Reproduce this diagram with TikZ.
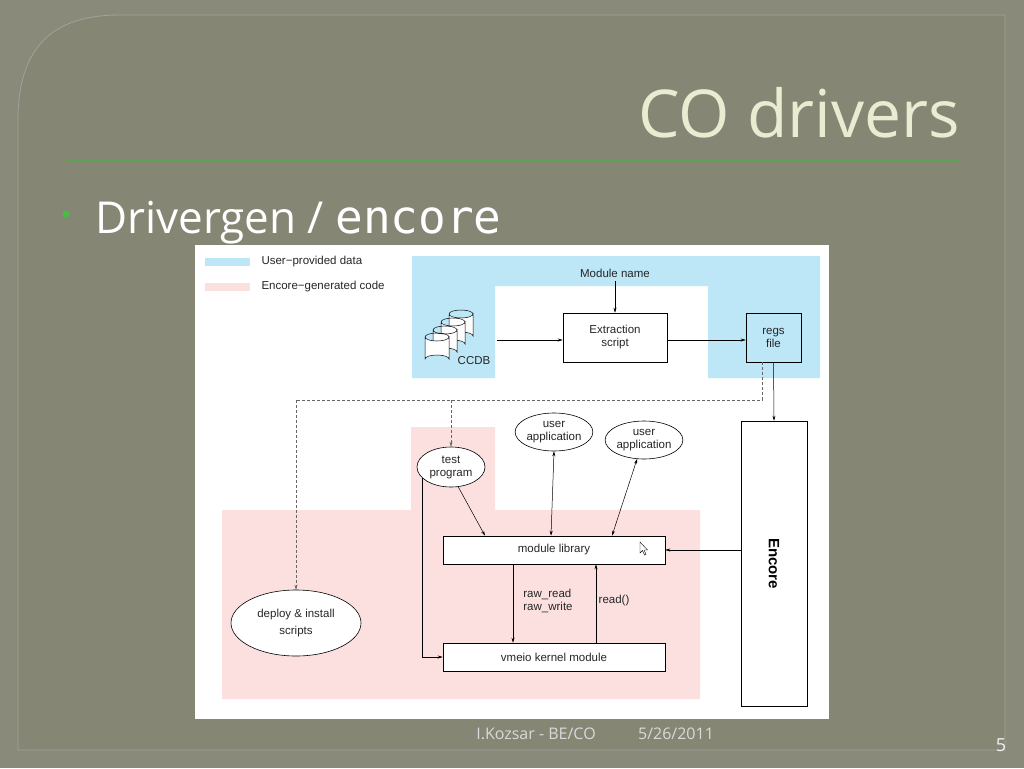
\documentclass[tikz,border=0pt]{standalone}
\usepackage{fontspec}
\setmainfont{Liberation Sans}
\newfontfamily\slidefont{Open Sans}
\newfontfamily\slidemono{DejaVu Sans Mono}
\usetikzlibrary{arrows.meta,shapes.geometric}
\definecolor{bgout}{HTML}{8A8A7A}
\definecolor{bgin}{HTML}{868675}
\definecolor{ublue}{HTML}{BDE6F7}
\definecolor{epink}{HTML}{FCE0E0}
\definecolor{titlec}{HTML}{E8ECD0}
\begin{document}
\begin{tikzpicture}[x=1pt,y=-1pt,
  box/.style={draw,line width=0.6pt,inner sep=0},
  ell/.style={draw,line width=0.6pt,ellipse},
  lbl/.style={font=\fontsize{11.5}{13}\selectfont,align=center,text=black!85},
  arr/.style={-{Stealth[length=5pt,width=3pt]},line width=0.5pt},
  darr/.style={arr,dashed,dash pattern=on 3pt off 2pt,black!60}]
\useasboundingbox (0,0) rectangle (1024,768);
\fill[bgout] (0,0) rectangle (1024,768);
\draw[fill=bgin,draw=black!25!bgin!60!white,line width=0.8pt] (18,750) -- (18,120) .. controls (18,40) and (60,15) .. (120,15) -- (1005,15) -- (1005,750) -- cycle;
\node[anchor=base east,text=titlec,font=\slidefont\fontsize{66}{74}\selectfont,inner sep=0] (title) at (960,137) {CO drivers};
\draw[color=black!10!green!30!bgin,line width=1.2pt] (65,160) -- (960,160);
\fill[green!50!gray] (66,214) circle (3.5);
\node[anchor=base west,text=white,font=\slidefont\fontsize{44}{46}\selectfont,inner sep=0] (bul) at (95,233) {Drivergen / {\slidemono\fontsize{46}{46}\selectfont encore}};
% image
\fill[white] (195,245) rectangle (829,719);
\fill[ublue] (205,258) rectangle (250,266);
\fill[epink] (205,283) rectangle (250,291);
\node[lbl,anchor=west] (l1) at (258,262) {User\textminus provided data};
\node[lbl,anchor=west] (l2) at (258,287) {Encore\textminus generated code};
\fill[ublue] (412,256) -- (820,256) -- (820,378) -- (708,378) -- (708,286) -- (495,286) -- (495,378) -- (412,378) -- cycle;
\fill[epink] (411,427) -- (495,427) -- (495,510) -- (700,510) -- (700,699) -- (222,699) -- (222,510) -- (411,510) -- cycle;
\node[lbl] (mn) at (615,273) {Module name};
\node[box,minimum width=104pt,minimum height=49pt,lbl,fill=white] (ex) at (615,337.5) {Extraction\\script};
\node[box,minimum width=55pt,minimum height=49pt,lbl,fill=ublue] (regs) at (773.5,337.5) {regs\\file};
\draw[arr] (mn) -- (ex);
\coordinate (cc) at (497,340);
\draw[arr] (cc) -- (ex.west|-cc);
\draw[arr] (ex.east|-cc) -- (regs.west|-cc);
% cylinders
\foreach \cx/\cy in {461/314,453/322,445/330,437/337}{
  \draw[fill=white,line width=0.5pt] (\cx-12,\cy) -- (\cx-12,\cy+22) arc[start angle=180,end angle=360,x radius=12,y radius=4] -- (\cx+12,\cy) arc[start angle=0,end angle=180,x radius=12,y radius=4];
  \draw[line width=0.5pt] (\cx-12,\cy) arc[start angle=180,end angle=360,x radius=12,y radius=4];}
\node[lbl] (ccdb) at (474,361) {CCDB};
\node[box,minimum width=66pt,minimum height=285pt,fill=white] (enc) at (774,563.5) {};
\node[rotate=-90,font=\bfseries\fontsize{15}{16}\selectfont] (enct) at (enc.center) {Encore};
\draw[arr] (regs.south) -- (enc.north);
\node[ell,lbl,minimum width=68pt,minimum height=40pt,inner sep=0,fill=white] (tp) at (451,467) {test\\program};
\node[ell,lbl,minimum width=70pt,minimum height=38pt,inner sep=0,fill=white] (ua1) at (554,432) {user\\application};
\node[ell,lbl,minimum width=70pt,minimum height=38pt,inner sep=0,fill=white] (ua2) at (644,440) {user\\application};
\node[ell,lbl,minimum width=130pt,minimum height=66pt,inner sep=0,fill=white] (dep) at (296,623) {deploy \& install\\[4pt]scripts};
\node[box,lbl,minimum width=222pt,minimum height=28pt,fill=white] (ml) at (554,550) {module library};
\node[box,lbl,minimum width=222pt,minimum height=28pt,fill=white] (vm) at (554,657) {vmeio kernel module};
\coordinate (d1) at (762,400); \coordinate (d2) at (296,400); \coordinate (d3) at (451,400);
\draw[dashed,dash pattern=on 3pt off 2pt,black!60,line width=0.5pt] (regs.south-|d1) -- (d1) -- (d2);
\draw[darr] (d2) -- (dep.north);
\draw[darr] (d3) -- (tp.north);
\draw[arr] (tp.-70) -- (ml.north-|485,0);
\draw[arr] (tp.200) -- (tp.200|-vm.west) -- (vm.west);
\draw[arr,{Stealth[length=5pt,width=3pt]}-{Stealth[length=5pt,width=3pt]}] (ml.north-|551,0) -- (ua1.south);
\draw[arr,{Stealth[length=5pt,width=3pt]}-{Stealth[length=5pt,width=3pt]}] (ml.north-|612,0) -- (ua2.-110);
\draw[arr] (enc.west|-ml) -- (ml.east);
\draw[arr] (ml.south-|513,0) -- (vm.north-|513,0);
\draw[arr] (vm.north-|596,0) -- (ml.south-|596,0);
\node[lbl,align=left] (rw) at (548,601) {raw\_read\\raw\_write};
\node[lbl] (rd) at (614,601) {read()};
\draw[fill=white,line width=0.4pt] (640,542) -- (640,553) -- (642.5,550.5) -- (644.5,555) -- (646,554.3) -- (644,550) -- (647.5,550) -- cycle;
\node[text=black!15!white,font=\slidefont\fontsize{16}{18}\selectfont] (f1) at (536,734) {I.Kozsar - BE/CO};
\node[text=black!15!white,font=\slidefont\fontsize{16}{18}\selectfont] (f2) at (676,734) {5/26/2011};
\node[text=black!5!white,font=\slidefont\fontsize{18}{20}\selectfont] (f3) at (1001,745) {5};
\end{tikzpicture}
\end{document}
